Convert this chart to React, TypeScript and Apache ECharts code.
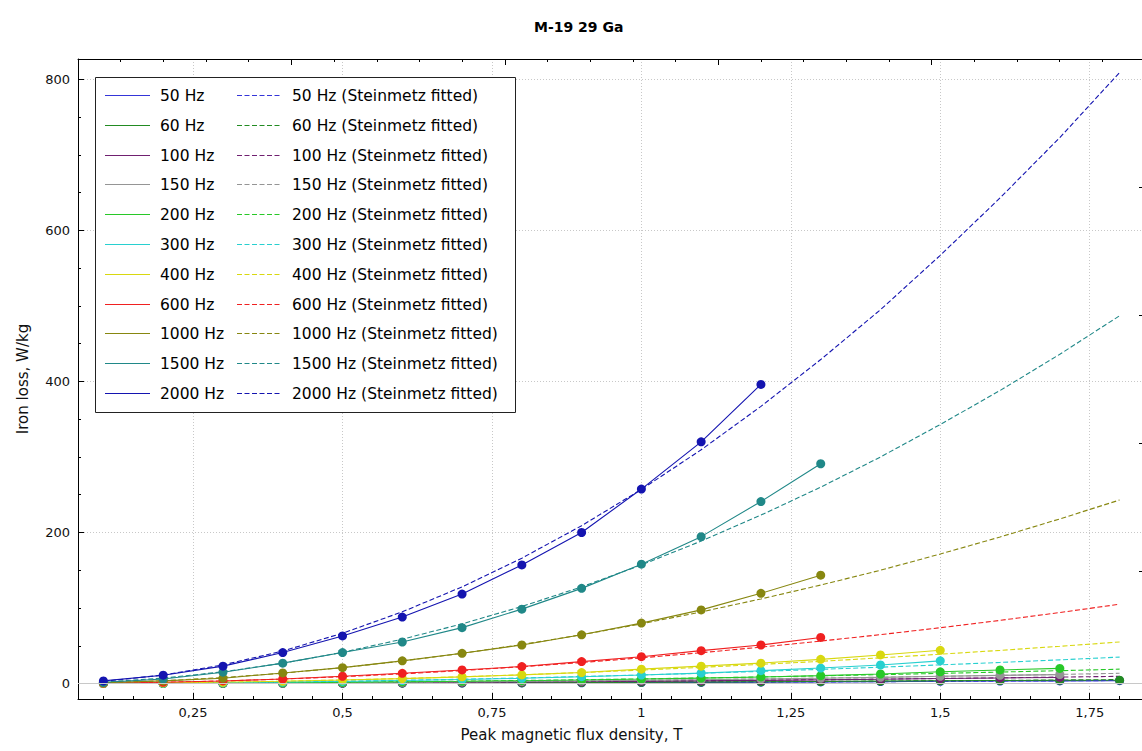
import { useEffect, useRef } from "react";
import * as echarts from "echarts";

// ---------- texts ----------
const chartTitle = "M-19 29 Ga";
const xAxisTitle = "Peak magnetic flux density, T";
const yAxisTitle = "Iron loss, W/kg";
const fittedSuffix = " (Steinmetz fitted)";

// ---------- categories ----------
const frequencies = ["50 Hz", "60 Hz", "100 Hz", "150 Hz", "200 Hz", "300 Hz", "400 Hz", "600 Hz", "1000 Hz", "1500 Hz", "2000 Hz"];
const colors = ["#3535D8", "#228B22", "#702070", "#959595", "#28C828", "#28D0D0", "#D8D810", "#F02020", "#878710", "#208888", "#1414B0"];

// peak flux density points, T
const fluxDensity = [0.1, 0.2, 0.3, 0.4, 0.5, 0.6, 0.7, 0.8, 0.9, 1.0, 1.1, 1.2, 1.3, 1.4, 1.5, 1.6, 1.7, 1.8];

// ---------- measured iron loss, W/kg (starting at 0.1 T) ----------
const measured50 = [0.016, 0.06, 0.13, 0.22, 0.33, 0.47, 0.63, 0.81, 1.02, 1.25, 1.51, 1.81, 2.14, 2.52, 2.92, 3.25, 3.5, 3.7];
const measured60 = [0.02, 0.075, 0.16, 0.28, 0.42, 0.59, 0.79, 1.02, 1.28, 1.57, 1.9, 2.27, 2.68, 3.15, 3.6, 3.95, 4.2, 4.4];
const measured100 = [0.035, 0.13, 0.29, 0.5, 0.76, 1.07, 1.44, 1.86, 2.34, 2.88, 3.47, 4.12, 4.85, 5.7, 6.6, 7.4, 8.0];
const measured150 = [0.05, 0.19, 0.41, 0.71, 1.08, 1.52, 2.05, 2.65, 3.33, 4.1, 4.95, 5.9, 7.0, 8.2, 9.6, 10.8, 11.8];
const measured200 = [0.07, 0.27, 0.58, 1.0, 1.5, 2.15, 2.9, 3.75, 4.75, 5.9, 7.2, 8.7, 10.4, 12.6, 15.5, 18.0, 20.0];
const measured300 = [0.13, 0.48, 1.05, 1.8, 2.75, 3.9, 5.3, 6.9, 9.0, 11.3, 13.8, 17.0, 20.5, 24.5, 30.0];
const measured400 = [0.2, 0.8, 1.7, 3.0, 4.6, 6.5, 8.8, 11.4, 14.5, 19.0, 23.0, 27.0, 32.0, 37.8, 44.0];
const measured600 = [0.4, 1.6, 3.4, 6.0, 9.6, 13.5, 18.0, 22.5, 29.0, 35.5, 43.5, 51.0, 61.0];
const measured1000 = [1.0, 3.5, 7.0, 14.0, 21.0, 30.0, 40.0, 51.0, 64.5, 80.0, 97.5, 119.5, 143.5];
const measured1500 = [1.5, 6.0, 15.0, 27.0, 41.0, 55.0, 74.0, 98.5, 126.0, 158.0, 194.5, 241.0, 291.0];
const measured2000 = [3.5, 11.0, 23.0, 41.0, 63.0, 88.0, 118.5, 157.0, 200.0, 257.5, 320.0, 396.0];

// ---------- Steinmetz fitted iron loss, W/kg (0.1 .. 1.8 T) ----------
const fitted50 = [0.016, 0.059, 0.13, 0.22, 0.34, 0.49, 0.65, 0.84, 1.06, 1.29, 1.55, 1.84, 2.14, 2.47, 2.82, 3.19, 3.58, 4.0];
const fitted60 = [0.02, 0.077, 0.17, 0.29, 0.44, 0.63, 0.85, 1.1, 1.37, 1.68, 2.02, 2.39, 2.78, 3.21, 3.66, 4.15, 4.66, 5.2];
const fitted100 = [0.037, 0.14, 0.3, 0.53, 0.81, 1.15, 1.55, 2.0, 2.51, 3.07, 3.69, 4.36, 5.09, 5.86, 6.69, 7.58, 8.51, 9.5];
const fitted150 = [0.053, 0.2, 0.43, 0.75, 1.15, 1.64, 2.2, 2.85, 3.57, 4.37, 5.24, 6.2, 7.23, 8.33, 9.51, 10.77, 12.1, 13.5];
const fitted200 = [0.074, 0.28, 0.61, 1.06, 1.62, 2.3, 3.1, 4.0, 5.02, 6.15, 7.38, 8.72, 10.17, 11.73, 13.39, 15.15, 17.02, 19.0];
const fitted300 = [0.14, 0.51, 1.12, 1.95, 2.99, 4.25, 5.71, 7.38, 9.25, 11.32, 13.59, 16.07, 18.74, 21.6, 24.66, 27.92, 31.36, 35.0];
const fitted400 = [0.21, 0.81, 1.76, 3.06, 4.7, 6.67, 8.97, 11.6, 14.5, 17.8, 21.4, 25.3, 29.4, 34.0, 38.8, 43.9, 49.3, 55.0];
const fitted600 = [0.41, 1.57, 3.4, 5.9, 9.0, 12.8, 17.2, 22.2, 27.8, 34.0, 40.8, 48.2, 56.2, 64.7, 73.9, 83.6, 94.0, 105.0];
const fitted1000 = [0.97, 3.65, 7.9, 13.7, 21.0, 29.8, 40.0, 51.6, 64.6, 79.0, 94.8, 112.0, 130.4, 150.0, 171.5, 194.0, 218.0, 243.0];
const fitted1500 = [1.87, 7.1, 15.5, 26.9, 41.3, 58.7, 79.0, 102.0, 128.0, 157.0, 188.6, 223.0, 260.0, 300.0, 343.0, 388.0, 436.0, 487.0];
const fitted2000 = [2.9, 11.2, 24.6, 43.0, 66.6, 94.9, 128.0, 166.0, 209.0, 257.0, 309.5, 367.0, 429.0, 495.0, 567.0, 643.0, 723.0, 809.0];

const measuredSets = [measured50, measured60, measured100, measured150, measured200, measured300, measured400, measured600, measured1000, measured1500, measured2000];
const fittedSets = [fitted50, fitted60, fitted100, fitted150, fitted200, fitted300, fitted400, fitted600, fitted1000, fitted1500, fitted2000];

// axis ranges and tick steps
const xRange = [0.0575, 1.8425];
const xMajorStep = 0.25;
const xMinorStep = 0.05;
const yRange = [-20.5, 827];
const yMajorStep = 200;
const yMinorStep = 50;
const mirrorRange = [0, 5]; // unlabeled top / right axes

const FONT = '"DejaVu Sans", Verdana, sans-serif';
const GRID_COLOR = "#c8c8c8";
const DASH = [5, 2.5];

function fmtX(v: number) {
  return String(+v.toFixed(4)).replace(".", ",");
}

function buildOption() {
  const solidSeries = measuredSets.map((vals, i) => ({
    name: frequencies[i],
    type: "line",
    xAxisIndex: 0,
    yAxisIndex: 0,
    data: vals.map((v, j) => [fluxDensity[j], v]),
    symbol: "circle",
    symbolSize: 9,
    showSymbol: true,
    lineStyle: { color: colors[i], width: 1.1 },
    itemStyle: { color: colors[i] },
    emphasis: { disabled: true },
    silent: true,
    ...(i === 0
      ? {
          markLine: {
            silent: true,
            symbol: "none",
            label: { show: false },
            lineStyle: { color: GRID_COLOR, type: "solid", width: 1 },
            data: [{ yAxis: 0 }],
          },
        }
      : {}),
  }));
  const fittedSeries = fittedSets.map((vals, i) => ({
    name: frequencies[i] + fittedSuffix,
    type: "line",
    xAxisIndex: 0,
    yAxisIndex: 0,
    data: vals.map((v, j) => [fluxDensity[j], v]),
    symbol: "none",
    showSymbol: false,
    lineStyle: { color: colors[i], width: 1.1, type: DASH },
    itemStyle: { color: colors[i] },
    emphasis: { disabled: true },
    silent: true,
  }));

  // custom two-column legend (box with lines and labels)
  const legendX = 95, legendY = 77, legendW = 420, legendH = 335;
  const rowY0 = 95, rowStep = 29.8;
  const legendEls: any[] = [
    {
      type: "rect",
      z: 100,
      shape: { x: legendX + 0.5, y: legendY + 0.5, width: legendW, height: legendH },
      style: { fill: "#fff", stroke: "#222", lineWidth: 1 },
      silent: true,
    },
  ];
  frequencies.forEach((f, i) => {
    const y = Math.round(rowY0 + i * rowStep) + 0.5;
    legendEls.push(
      { type: "line", z: 101, silent: true, shape: { x1: 105, y1: y, x2: 150, y2: y }, style: { stroke: colors[i], lineWidth: 1 } },
      { type: "text", z: 101, silent: true, x: 160, y, style: { text: f, fill: "#000", fontSize: 15.5, fontFamily: FONT, verticalAlign: "middle", align: "left" } },
      { type: "line", z: 101, silent: true, shape: { x1: 237, y1: y, x2: 282, y2: y }, style: { stroke: colors[i], lineWidth: 1, lineDash: DASH } },
      { type: "text", z: 101, silent: true, x: 292, y, style: { text: f + fittedSuffix, fill: "#000", fontSize: 15.5, fontFamily: FONT, verticalAlign: "middle", align: "left" } }
    );
  });

  const axisLineStyle = { color: "#000", width: 1 };
  const tickLabelStyle = { color: "#111", fontSize: 13, fontFamily: FONT };

  return {
    animation: false,
    backgroundColor: "#fff",
    title: {
      text: chartTitle,
      left: 534,
      top: 20,
      padding: 0,
      textStyle: { fontFamily: FONT, fontWeight: "bold", fontSize: 14, color: "#000" },
    },
    legend: { show: false },
    tooltip: { show: false },
    grid: { left: 78, top: 59, width: 1067, height: 640, containLabel: false, outerBoundsMode: "none" },
    xAxis: [
      {
        type: "value",
        position: "bottom",
        min: xRange[0],
        max: xRange[1],
        minInterval: xMajorStep,
        maxInterval: xMajorStep,
        axisLine: { show: true, onZero: false, lineStyle: axisLineStyle },
        axisTick: { show: true, inside: true, length: 6, lineStyle: axisLineStyle },
        axisLabel: { show: true, margin: 7, showMinLabel: false, showMaxLabel: false, hideOverlap: false, formatter: fmtX, ...tickLabelStyle },
        splitLine: { show: true, showMinLine: false, showMaxLine: false, lineStyle: { color: GRID_COLOR, type: [1, 2], width: 1 } },
        name: xAxisTitle,
        nameLocation: "middle",
        nameGap: 28,
        nameMoveOverlap: false,
        nameTextStyle: { color: "#111", fontSize: 15, fontFamily: FONT, padding: [0, 80, 0, 0] },
      },
      {
        type: "value",
        position: "bottom",
        min: xRange[0],
        max: xRange[1],
        minInterval: xMinorStep,
        maxInterval: xMinorStep,
        axisLine: { show: false, onZero: false },
        axisTick: { show: true, inside: true, length: 3, lineStyle: axisLineStyle },
        axisLabel: { show: false },
        splitLine: { show: false },
      },
      {
        type: "value",
        position: "top",
        min: mirrorRange[0],
        max: mirrorRange[1],
        interval: 1,
        axisLine: { show: true, onZero: false, lineStyle: axisLineStyle },
        axisTick: { show: true, inside: true, length: 6, lineStyle: axisLineStyle },
        minorTick: { show: true, splitNumber: 5, length: 3, lineStyle: axisLineStyle },
        axisLabel: { show: false },
        splitLine: { show: false },
      },
    ],
    yAxis: [
      {
        type: "value",
        position: "left",
        min: yRange[0],
        max: yRange[1],
        minInterval: yMajorStep,
        maxInterval: yMajorStep,
        axisLine: { show: true, onZero: false, lineStyle: axisLineStyle },
        axisTick: { show: true, inside: true, length: 6, lineStyle: axisLineStyle },
        axisLabel: { show: true, margin: 8, showMinLabel: false, showMaxLabel: false, hideOverlap: false, ...tickLabelStyle },
        splitLine: { show: true, showMinLine: false, showMaxLine: false, lineStyle: { color: GRID_COLOR, type: [1, 2], width: 1 } },
        name: yAxisTitle,
        nameLocation: "middle",
        nameGap: 48,
        nameRotate: 90,
        nameMoveOverlap: false,
        nameTextStyle: { color: "#111", fontSize: 15, fontFamily: FONT },
      },
      {
        type: "value",
        position: "left",
        min: yRange[0],
        max: yRange[1],
        minInterval: yMinorStep,
        maxInterval: yMinorStep,
        axisLine: { show: false, onZero: false },
        axisTick: { show: true, inside: true, length: 3, lineStyle: axisLineStyle },
        axisLabel: { show: false },
        splitLine: { show: false },
      },
      {
        type: "value",
        position: "right",
        min: mirrorRange[0],
        max: mirrorRange[1],
        interval: 1,
        axisLine: { show: true, onZero: false, lineStyle: axisLineStyle },
        axisTick: { show: true, inside: true, length: 6, lineStyle: axisLineStyle },
        minorTick: { show: true, splitNumber: 5, length: 3, lineStyle: axisLineStyle },
        axisLabel: { show: false },
        splitLine: { show: false },
      },
    ],
    graphic: legendEls,
    series: [...solidSeries, ...fittedSeries],
  };
}

export default function App() {
  const ref = useRef<HTMLDivElement>(null);
  useEffect(() => {
    document.body.style.margin = "0";
    if (!ref.current) return;
    const chart = echarts.init(ref.current, undefined, { renderer: "svg" });
    chart.setOption(buildOption() as any);
    return () => chart.dispose();
  }, []);
  return <div ref={ref} style={{ width: 1142, height: 751, background: "#fff", overflow: "hidden" }} />;
}
